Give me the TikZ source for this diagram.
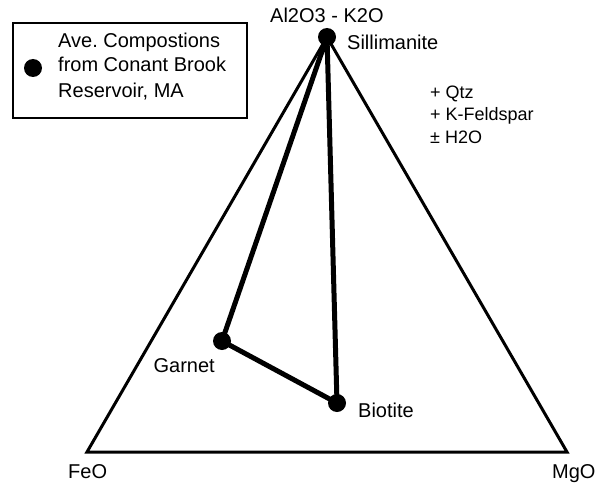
\documentclass[tikz,border=0pt]{standalone}
\usepackage{fontspec}
\setmainfont{Liberation Sans}
\usetikzlibrary{positioning, backgrounds}
\tikzset{
  phase/.style={circle, fill=black, inner sep=0pt, minimum size=18pt},
  side/.style={line width=3pt, line join=miter},
  tie/.style={line width=5pt},
  lbl/.style={font=\fontsize{20}{25}\selectfont, inner sep=0pt, anchor=base west},
  assem/.style={font=\fontsize{18}{22.5}\selectfont, inner sep=0pt, anchor=base west, align=left},
}

\begin{document}
\begin{tikzpicture}[x=1pt, y=-1pt]
  \useasboundingbox (0,0) rectangle (605,487);
  % corners
  \coordinate (feo) at (87,452);
  \coordinate (mgo) at (567,452);
  \coordinate (top) at (327,37);
  \draw[side] (feo) -- (mgo) -- (top) -- cycle;
  % phases
  \node[phase] (sil) at (top) {};
  \node[phase] (grt) at (222,341) {};
  \node[phase] (bt) at (337,403) {};
  \begin{scope}[on background layer]
    \draw[tie] (sil.center) -- (grt.center) -- (bt.center) -- (sil.center);
  \end{scope}
  % labels
  \node[lbl] (apex) at (270,23) {Al2O3 - K2O};
  \node[lbl] (sillbl) at (347,50) {Sillimanite};
  \node[lbl, anchor=base east] (grtlbl) at (215,372) {Garnet};
  \node[lbl] (btlbl) at (358,417) {Biotite};
  \node[lbl] (feolbl) at (68,478) {FeO};
  \node[lbl] (mgolbl) at (552,478) {MgO};
  \node[assem] (extra) at (430,143) {+ Qtz\\+ K-Feldspar\\± H2O};
  % legend
  \node[draw, line width=2pt, minimum width=234pt, minimum height=95pt] (legend) at (130,70.5) {};
  \node[phase] (key) at (33,68) {};
  \node[lbl, align=left] (keytxt) at (58,97) {Ave.\ Compostions\\from Conant Brook\\Reservoir, MA};
\end{tikzpicture}
\end{document}
